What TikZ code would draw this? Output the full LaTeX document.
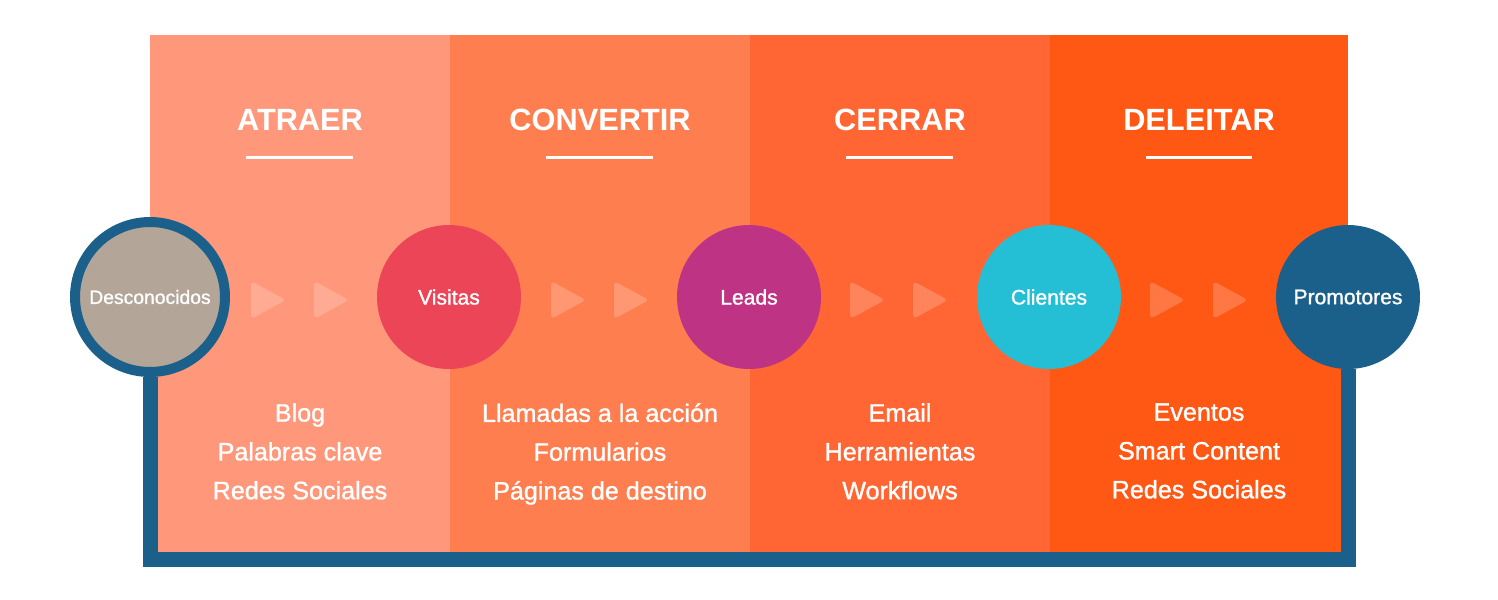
\documentclass[tikz,border=0pt]{standalone}
\usepackage{fontspec}
\setmainfont{Liberation Sans}
\newfontfamily\medfont{Liberation Sans}[FakeBold=1.2]
\definecolor{atraer}{HTML}{FF977A}
\definecolor{convertir}{HTML}{FF7E50}
\definecolor{cerrar}{HTML}{FF6633}
\definecolor{deleitar}{HTML}{FF5714}
\definecolor{marco}{HTML}{1B5F8B}
\definecolor{gris}{HTML}{B3A598}
\definecolor{visitas}{HTML}{EB4557}
\definecolor{leads}{HTML}{BE3383}
\definecolor{clientes}{HTML}{24BED5}

\begin{document}
\begin{tikzpicture}[x=0.02cm, y=-0.02cm,
               stage/.style ={circle, inner sep=0pt, minimum size=2.88cm, text=white,
               font=\medfont\fontsize{12}{14}\selectfont},
               title/.style ={text=white, font=\fontsize{17.5}{20}\selectfont\bfseries},
               items/.style ={text=white, align=center, anchor=north, inner sep=0pt,
               font=\medfont\fontsize{14.3}{22.1}\selectfont},
               rule/.style ={white, line width=0.06cm},
               playbtn/.style ={white, opacity=0.2, rounded corners=0.08cm},
               frame/.style ={marco, line width=0.3cm}]

           \useasboundingbox (0,0) rectangle (1498,599);

           %bandas de fondo
           \fill[atraer] (150,35) rectangle (450,560);
           \fill[convertir] (450,35) rectangle (750,560);
           \fill[cerrar] (750,35) rectangle (1050,560);
           \fill[deleitar] (1050,35) rectangle (1348,560);

           \node[title] (t1) at (300,120) {ATRAER};
           \node[title] (t2) at (600,120) {CONVERTIR};
           \node[title] (t3) at (900,120) {CERRAR};
           \node[title] (t4) at (1199,120) {DELEITAR};

           \draw[rule] (246,157) -- (353,157);
           \draw[rule] (546,157) -- (653,157);
           \draw[rule] (846,157) -- (953,157);
           \draw[rule] (1146,157) -- (1252,157);

           \node[items] (i1) at (300,403) {Blog\\Palabras clave\\Redes Sociales};
           \node[items] (i2) at (600,403) {Llamadas a la acción\\Formularios\\Páginas de destino};
           \node[items] (i3) at (900,403) {Email\\Herramientas\\Workflows};
           \node[items] (i4) at (1199,403) {Eventos\\Smart Content\\Redes Sociales};

           %flechas
           \fill[playbtn] (251,281) -- (286,300) -- (251,319) -- cycle;
           \fill[playbtn] (314,281) -- (349,300) -- (314,319) -- cycle;
           \fill[playbtn] (551,281) -- (586,300) -- (551,319) -- cycle;
           \fill[playbtn] (614,281) -- (649,300) -- (614,319) -- cycle;
           \fill[playbtn] (850,281) -- (885,300) -- (850,319) -- cycle;
           \fill[playbtn] (913,281) -- (948,300) -- (913,319) -- cycle;
           \fill[playbtn] (1150,281) -- (1185,300) -- (1150,319) -- cycle;
           \fill[playbtn] (1213,281) -- (1248,300) -- (1213,319) -- cycle;

           \node[stage, fill=gris, draw=marco, line width=0.2cm, minimum size=3.0cm,
                 font=\medfont\fontsize{11}{13}\selectfont] (des) at (150,297) {Desconocidos};
           \node[stage, fill=visitas] (vis) at (449,297) {Visitas};
           \node[stage, fill=leads] (lea) at (749,297) {Leads};
           \node[stage, fill=clientes] (cli) at (1049,297) {Clientes};
           \node[stage, fill=marco] (pro) at (1348,297) {Promotores};

           \coordinate (base) at (749,559.5);
           \draw[frame] (des.south) |- (base) -| (pro.south);

       \end{tikzpicture}
\end{document}
